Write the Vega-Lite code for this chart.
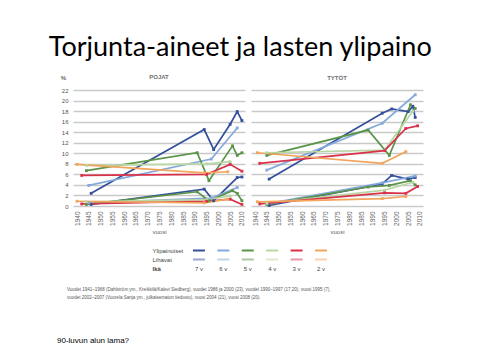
{
 "$schema": "https://vega.github.io/schema/vega-lite/v6.json",
 "autosize": {"type": "none"},
 "padding": {"left": 73, "top": 90, "right": 407, "bottom": 270},
 "background": "white",
 "title": {"text": "Torjunta-aineet ja lasten ylipaino", "font": "Lato", "fontSize": 27, "fontWeight": "normal", "color": "#000000", "anchor": "middle", "offset": 12},
 "config": {"view": {"stroke": null}, "font": "Liberation Sans"},
 "datasets": {
  "d": [
   {"panel":"POJAT","type":"Ylipainoiset","age":"7 v","year":1946,"value":2.4},
   {"panel":"POJAT","type":"Ylipainoiset","age":"7 v","year":1994,"value":14.5},
   {"panel":"POJAT","type":"Ylipainoiset","age":"7 v","year":1998,"value":10.7},
   {"panel":"POJAT","type":"Ylipainoiset","age":"7 v","year":2005,"value":15.5},
   {"panel":"POJAT","type":"Ylipainoiset","age":"7 v","year":2008,"value":17.9},
   {"panel":"POJAT","type":"Ylipainoiset","age":"7 v","year":2010,"value":16.2},
   {"panel":"POJAT","type":"Ylipainoiset","age":"6 v","year":1945,"value":3.9},
   {"panel":"POJAT","type":"Ylipainoiset","age":"6 v","year":1997,"value":8.9},
   {"panel":"POJAT","type":"Ylipainoiset","age":"6 v","year":2008,"value":14.8},
   {"panel":"POJAT","type":"Ylipainoiset","age":"5 v","year":1944,"value":6.7},
   {"panel":"POJAT","type":"Ylipainoiset","age":"5 v","year":1991,"value":10.1},
   {"panel":"POJAT","type":"Ylipainoiset","age":"5 v","year":1996,"value":4.8},
   {"panel":"POJAT","type":"Ylipainoiset","age":"5 v","year":2006,"value":11.4},
   {"panel":"POJAT","type":"Ylipainoiset","age":"5 v","year":2008,"value":9.6},
   {"panel":"POJAT","type":"Ylipainoiset","age":"5 v","year":2010,"value":10.1},
   {"panel":"POJAT","type":"Ylipainoiset","age":"4 v","year":1944,"value":7.7},
   {"panel":"POJAT","type":"Ylipainoiset","age":"4 v","year":1995,"value":8.0},
   {"panel":"POJAT","type":"Ylipainoiset","age":"4 v","year":2005,"value":8.4},
   {"panel":"POJAT","type":"Ylipainoiset","age":"3 v","year":1942,"value":5.8},
   {"panel":"POJAT","type":"Ylipainoiset","age":"3 v","year":1995,"value":6.0},
   {"panel":"POJAT","type":"Ylipainoiset","age":"3 v","year":2005,"value":7.9},
   {"panel":"POJAT","type":"Ylipainoiset","age":"3 v","year":2010,"value":6.6},
   {"panel":"POJAT","type":"Ylipainoiset","age":"2 v","year":1940,"value":7.9},
   {"panel":"POJAT","type":"Ylipainoiset","age":"2 v","year":1994,"value":6.3},
   {"panel":"POJAT","type":"Ylipainoiset","age":"2 v","year":2004,"value":6.5},
   {"panel":"POJAT","type":"Lihavat","age":"7 v","year":1946,"value":0.3},
   {"panel":"POJAT","type":"Lihavat","age":"7 v","year":1994,"value":3.2},
   {"panel":"POJAT","type":"Lihavat","age":"7 v","year":1998,"value":1.0},
   {"panel":"POJAT","type":"Lihavat","age":"7 v","year":2008,"value":5.4},
   {"panel":"POJAT","type":"Lihavat","age":"7 v","year":2010,"value":5.5},
   {"panel":"POJAT","type":"Lihavat","age":"6 v","year":1945,"value":0.6},
   {"panel":"POJAT","type":"Lihavat","age":"6 v","year":1997,"value":1.5},
   {"panel":"POJAT","type":"Lihavat","age":"6 v","year":2008,"value":3.5},
   {"panel":"POJAT","type":"Lihavat","age":"5 v","year":1944,"value":0.3},
   {"panel":"POJAT","type":"Lihavat","age":"5 v","year":1991,"value":2.7},
   {"panel":"POJAT","type":"Lihavat","age":"5 v","year":1996,"value":1.0},
   {"panel":"POJAT","type":"Lihavat","age":"5 v","year":2006,"value":2.9},
   {"panel":"POJAT","type":"Lihavat","age":"5 v","year":2008,"value":2.4},
   {"panel":"POJAT","type":"Lihavat","age":"5 v","year":2010,"value":1.0},
   {"panel":"POJAT","type":"Lihavat","age":"4 v","year":1944,"value":0.8},
   {"panel":"POJAT","type":"Lihavat","age":"4 v","year":1995,"value":1.2},
   {"panel":"POJAT","type":"Lihavat","age":"4 v","year":2005,"value":1.9},
   {"panel":"POJAT","type":"Lihavat","age":"3 v","year":1942,"value":0.4},
   {"panel":"POJAT","type":"Lihavat","age":"3 v","year":1995,"value":0.9},
   {"panel":"POJAT","type":"Lihavat","age":"3 v","year":2005,"value":1.3},
   {"panel":"POJAT","type":"Lihavat","age":"3 v","year":2010,"value":0.3},
   {"panel":"POJAT","type":"Lihavat","age":"2 v","year":1940,"value":0.9},
   {"panel":"POJAT","type":"Lihavat","age":"2 v","year":1994,"value":0.6},
   {"panel":"POJAT","type":"Lihavat","age":"2 v","year":2004,"value":1.3},
   {"panel":"TYTÖT","type":"Ylipainoiset","age":"7 v","year":1946,"value":5.1},
   {"panel":"TYTÖT","type":"Ylipainoiset","age":"7 v","year":1994,"value":17.6},
   {"panel":"TYTÖT","type":"Ylipainoiset","age":"7 v","year":1998,"value":18.4},
   {"panel":"TYTÖT","type":"Ylipainoiset","age":"7 v","year":2005,"value":17.9},
   {"panel":"TYTÖT","type":"Ylipainoiset","age":"7 v","year":2007,"value":18.9},
   {"panel":"TYTÖT","type":"Ylipainoiset","age":"7 v","year":2008,"value":16.8},
   {"panel":"TYTÖT","type":"Ylipainoiset","age":"6 v","year":1945,"value":6.8},
   {"panel":"TYTÖT","type":"Ylipainoiset","age":"6 v","year":1994,"value":15.7},
   {"panel":"TYTÖT","type":"Ylipainoiset","age":"6 v","year":2008,"value":21.1},
   {"panel":"TYTÖT","type":"Ylipainoiset","age":"5 v","year":1945,"value":9.6},
   {"panel":"TYTÖT","type":"Ylipainoiset","age":"5 v","year":1988,"value":14.4},
   {"panel":"TYTÖT","type":"Ylipainoiset","age":"5 v","year":1995,"value":10.7},
   {"panel":"TYTÖT","type":"Ylipainoiset","age":"5 v","year":1997,"value":9.6},
   {"panel":"TYTÖT","type":"Ylipainoiset","age":"5 v","year":2006,"value":19.2},
   {"panel":"TYTÖT","type":"Ylipainoiset","age":"5 v","year":2008,"value":18.5},
   {"panel":"TYTÖT","type":"Ylipainoiset","age":"4 v","year":1945,"value":10.1},
   {"panel":"TYTÖT","type":"Ylipainoiset","age":"4 v","year":1995,"value":10.6},
   {"panel":"TYTÖT","type":"Ylipainoiset","age":"4 v","year":2007,"value":18.0},
   {"panel":"TYTÖT","type":"Ylipainoiset","age":"3 v","year":1942,"value":8.1},
   {"panel":"TYTÖT","type":"Ylipainoiset","age":"3 v","year":1995,"value":10.5},
   {"panel":"TYTÖT","type":"Ylipainoiset","age":"3 v","year":2004,"value":14.7},
   {"panel":"TYTÖT","type":"Ylipainoiset","age":"3 v","year":2009,"value":15.2},
   {"panel":"TYTÖT","type":"Ylipainoiset","age":"2 v","year":1941,"value":10.1},
   {"panel":"TYTÖT","type":"Ylipainoiset","age":"2 v","year":1994,"value":8.1},
   {"panel":"TYTÖT","type":"Ylipainoiset","age":"2 v","year":2004,"value":10.3},
   {"panel":"TYTÖT","type":"Lihavat","age":"7 v","year":1946,"value":0.1},
   {"panel":"TYTÖT","type":"Lihavat","age":"7 v","year":1994,"value":4.2},
   {"panel":"TYTÖT","type":"Lihavat","age":"7 v","year":1998,"value":5.8},
   {"panel":"TYTÖT","type":"Lihavat","age":"7 v","year":2005,"value":5.1},
   {"panel":"TYTÖT","type":"Lihavat","age":"7 v","year":2008,"value":5.4},
   {"panel":"TYTÖT","type":"Lihavat","age":"6 v","year":1945,"value":0.4},
   {"panel":"TYTÖT","type":"Lihavat","age":"6 v","year":1994,"value":4.4},
   {"panel":"TYTÖT","type":"Lihavat","age":"6 v","year":2008,"value":5.7},
   {"panel":"TYTÖT","type":"Lihavat","age":"5 v","year":1945,"value":0.3},
   {"panel":"TYTÖT","type":"Lihavat","age":"5 v","year":1988,"value":3.6},
   {"panel":"TYTÖT","type":"Lihavat","age":"5 v","year":1997,"value":3.9},
   {"panel":"TYTÖT","type":"Lihavat","age":"5 v","year":2006,"value":4.8},
   {"panel":"TYTÖT","type":"Lihavat","age":"5 v","year":2008,"value":4.0},
   {"panel":"TYTÖT","type":"Lihavat","age":"4 v","year":1945,"value":0.5},
   {"panel":"TYTÖT","type":"Lihavat","age":"4 v","year":1995,"value":3.0},
   {"panel":"TYTÖT","type":"Lihavat","age":"4 v","year":2007,"value":4.5},
   {"panel":"TYTÖT","type":"Lihavat","age":"3 v","year":1942,"value":0.4},
   {"panel":"TYTÖT","type":"Lihavat","age":"3 v","year":1995,"value":2.5},
   {"panel":"TYTÖT","type":"Lihavat","age":"3 v","year":2004,"value":2.4},
   {"panel":"TYTÖT","type":"Lihavat","age":"3 v","year":2009,"value":3.7},
   {"panel":"TYTÖT","type":"Lihavat","age":"2 v","year":1941,"value":0.8},
   {"panel":"TYTÖT","type":"Lihavat","age":"2 v","year":1994,"value":1.4},
   {"panel":"TYTÖT","type":"Lihavat","age":"2 v","year":2004,"value":1.8}
  ],
  "leg": [
   {"age":"7 v","row":"Ylipainoiset"},{"age":"7 v","row":"Lihavat"},{"age":"7 v","row":"Ikä"},
   {"age":"6 v","row":"Ylipainoiset"},{"age":"6 v","row":"Lihavat"},{"age":"6 v","row":"Ikä"},
   {"age":"5 v","row":"Ylipainoiset"},{"age":"5 v","row":"Lihavat"},{"age":"5 v","row":"Ikä"},
   {"age":"4 v","row":"Ylipainoiset"},{"age":"4 v","row":"Lihavat"},{"age":"4 v","row":"Ikä"},
   {"age":"3 v","row":"Ylipainoiset"},{"age":"3 v","row":"Lihavat"},{"age":"3 v","row":"Ikä"},
   {"age":"2 v","row":"Ylipainoiset"},{"age":"2 v","row":"Lihavat"},{"age":"2 v","row":"Ikä"}
  ]
 },
 "spacing": 11,
 "vconcat": [
  {
   "spacing": 6,
   "bounds": "flush",
   "hconcat": [
    {
     "width": 172, "height": 116,
     "title": {"text": "POJAT", "fontSize": 6, "fontWeight": "bold", "color": "#707070", "offset": -6},
     "data": {"name": "d"},
     "transform": [{"filter": "datum.panel === 'POJAT'"}],
     "encoding": {
      "x": {"field": "year", "type": "quantitative", "scale": {"domain": [1938.3, 2011.3], "nice": false, "zero": false},
            "axis": {"values": [1940,1945,1950,1955,1960,1965,1970,1975,1980,1985,1990,1995,2000,2005,2010], "format": "d", "labelAngle": -90, "labelFontSize": 6.5, "labelColor": "#666666", "labelPadding": 5, "grid": false, "ticks": false, "domain": false, "title": "vuosi", "titleFontSize": 6, "titleFontWeight": "normal", "titleColor": "#666666", "titlePadding": 3}},
      "y": {"field": "value", "type": "quantitative", "scale": {"domain": [0, 22], "nice": false},
            "axis": {"values": [0,2,4,6,8,10,12,14,16,18,20,22], "grid": true, "gridColor": "#c9c9c9", "gridWidth": 1.3, "domain": false, "ticks": false, "labelFontSize": 6, "labelColor": "#555555", "labelPadding": 5, "title": "%", "titleAngle": 0, "titleFontSize": 6, "titleFontWeight": "bold", "titleColor": "#666666", "titleX": -10, "titleY": -13, "titleAlign": "center", "titleBaseline": "middle"}},
      "color": {"field": "age", "type": "nominal", "scale": {"domain": ["7 v","6 v","5 v","4 v","3 v","2 v"], "range": ["#34509c","#86a9dc","#5a9448","#b9d7a5","#d8324b","#f2a55c"]}, "legend": null},
      "detail": {"field": "type", "type": "nominal"}
     },
     "layer": [
      {"mark": {"type": "line", "strokeWidth": 1.7}, "encoding": {}},
      {"mark": {"type": "square", "size": 8, "opacity": 1}, "encoding": {}}
     ]
    },
    {
     "width": 172, "height": 116,
     "title": {"text": "TYTÖT", "fontSize": 6, "fontWeight": "bold", "color": "#707070", "offset": 9},
     "data": {"name": "d"},
     "transform": [{"filter": "datum.panel === 'TYTÖT'"}],
     "encoding": {
      "x": {"field": "year", "type": "quantitative", "scale": {"domain": [1938.3, 2011.3], "nice": false, "zero": false},
            "axis": {"values": [1940,1945,1950,1955,1960,1965,1970,1975,1980,1985,1990,1995,2000,2005,2010], "format": "d", "labelAngle": -90, "labelFontSize": 6.5, "labelColor": "#666666", "labelPadding": 5, "grid": false, "ticks": false, "domain": false, "title": "vuosi", "titleFontSize": 6, "titleFontWeight": "normal", "titleColor": "#666666", "titlePadding": 3}},
      "y": {"field": "value", "type": "quantitative", "scale": {"domain": [0, 22], "nice": false},
            "axis": {"values": [0,2,4,6,8,10,12,14,16,18,20,22], "grid": true, "gridColor": "#c9c9c9", "gridWidth": 1.3, "domain": false, "ticks": false, "labels": false, "title": null}},
      "color": {"field": "age", "type": "nominal", "scale": {"domain": ["7 v","6 v","5 v","4 v","3 v","2 v"], "range": ["#34509c","#86a9dc","#5a9448","#b9d7a5","#d8324b","#f2a55c"]}, "legend": null},
      "detail": {"field": "type", "type": "nominal"}
     },
     "layer": [
      {"mark": {"type": "line", "strokeWidth": 1.7}, "encoding": {}},
      {"mark": {"type": "square", "size": 8, "opacity": 1}, "encoding": {}}
     ]
    }
   ]
  },
  {
   "width": 290, "height": 27,
   "data": {"name": "leg"},
   "title": {"text": ["Vuodet 1941–1968 (Dahlström ym., Kreikkilä/Kalevi Siedberg), vuodet 1986 ja 2000 (23), vuodet 1990–1997 (17,20), vuosi 1995 (7),", "vuodet 2002–2007 (Vuorela Sanja ym., julkaisematon tiedosto), vuosi 2004 (21), vuosi 2008 (20)."], "orient": "bottom", "anchor": "start", "frame": "group", "fontSize": 4.5, "fontWeight": "normal", "color": "#555555", "offset": 14, "dx": -6, "lineHeight": 7.5},
   "encoding": {
    "x": {"field": "age", "type": "nominal", "scale": {"type": "band", "domain": ["s1","s2","s3","s4","7 v","6 v","5 v","4 v","3 v","2 v","s5"], "paddingInner": 0, "paddingOuter": 0.44, "align": 0.75}, "axis": null},
    "y": {"field": "row", "type": "nominal", "scale": {"type": "band", "domain": ["Ylipainoiset","Lihavat","Ikä"], "paddingInner": 0, "paddingOuter": 0},
          "axis": {"orient": "left", "domain": false, "ticks": false, "tickSize": 0, "grid": false, "labelAlign": "left", "labelPadding": -79, "labelFontSize": 6, "labelColor": "#444444", "title": null, "labelFontWeight": {"condition": {"test": "datum.value === 'Ikä'", "value": "bold"}, "value": "normal"}}}
   },
   "layer": [
    {"transform": [{"filter": "datum.row !== 'Ikä'"}],
     "mark": {"type": "tick", "orient": "horizontal", "thickness": 2, "size": 12},
     "encoding": {
      "color": {"field": "age", "type": "nominal", "scale": {"domain": ["7 v","6 v","5 v","4 v","3 v","2 v"], "range": ["#34509c","#86a9dc","#5a9448","#b9d7a5","#d8324b","#f2a55c"]}, "legend": null},
      "opacity": {"field": "row", "type": "ordinal", "scale": {"domain": ["Ylipainoiset","Lihavat"], "range": [1, 0.5]}, "legend": null}
     }},
    {"transform": [{"filter": "datum.row === 'Ikä'"}],
     "mark": {"type": "text", "fontSize": 6, "color": "#444444"},
     "encoding": {"text": {"field": "age", "type": "nominal"}}}
   ]
  },
  {
   "width": 1, "height": 62,
   "data": {"values": [{"note": "90-luvun alun lama?"}]},
   "mark": {"type": "text", "align": "left", "baseline": "middle", "fontSize": 8, "dx": -16.5, "color": "#000000"},
   "encoding": {"text": {"field": "note", "type": "nominal"}}
  }
 ]
}
